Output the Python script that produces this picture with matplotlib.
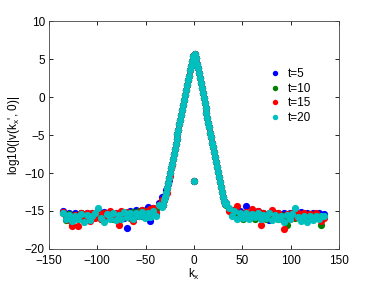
import matplotlib
matplotlib.use("Agg")
import matplotlib.pyplot as plt
import numpy as np

plt.rcParams['font.family'] = ['Liberation Sans', 'DejaVu Sans']
plt.rcParams['mathtext.default'] = 'regular'

# k_x grid: dense around the peak, coarser on the noise floor
k_peak = np.arange(-32, 33)
k_left = np.arange(-135, -32, 3)
k_right = np.arange(33, 136, 3)

# peak values (shared by all times)
v_peak = [-14.2, -13.6, -13.2, -12.6, -12.0, -11.3, -10.7, -10.0, -9.4, -8.8,
          -8.1, -7.5, -6.8, -6.2, -5.5, -4.9, -4.3, -3.6, -3.0, -2.3,
          -1.7, -1.0, -0.4, 0.3, 0.9, 1.6, 2.2, 2.8, 3.5, 4.1,
          4.8, 5.4, -11.0, 5.7, 5.1, 4.4, 3.8, 3.1, 2.5, 1.8,
          1.2, 0.5, -0.1, -0.8, -1.4, -2.1, -2.7, -3.4, -4.0, -4.7,
          -5.3, -6.0, -6.6, -7.3, -7.9, -8.6, -9.2, -9.9, -10.5, -11.2,
          -11.8, -12.5, -13.1, -13.7, -14.1]

# noise floor, left and right of the peak
blue_left = [-15.0, -15.6, -15.2, -16.0, -15.3, -15.8, -15.2, -16.0, -15.3, -15.9,
             -15.3, -15.6, -14.9, -15.8, -15.1, -15.6, -15.1, -15.8, -15.2, -15.7,
             -15.3, -15.9, -17.3, -15.0, -15.7, -14.9, -15.6, -14.9, -15.5, -14.5,
             -16.3, -14.6, -15.2, -14.0, -13.2]
blue_right = [-14.0, -14.8, -15.4, -14.9, -15.6, -15.0, -15.7, -14.3, -15.8, -15.1,
              -15.6, -15.0, -15.9, -15.2, -15.7, -16.2, -15.3, -15.8, -15.2, -15.9,
              -15.2, -15.7, -15.2, -15.6, -15.0, -15.6, -15.1, -15.7, -15.2, -15.8,
              -15.3, -15.7, -15.2, -15.6, -15.4]
green_left = [-15.3, -16.2, -15.4, -16.8, -15.5, -16.0, -15.3, -16.2, -15.4, -16.0,
              -15.3, -15.8, -15.2, -16.1, -15.3, -15.9, -15.1, -16.0, -15.4, -15.9,
              -15.2, -15.8, -15.3, -15.9, -15.1, -15.7, -15.0, -15.6, -15.0, -15.5,
              -14.9, -15.4, -14.8, -14.3, -13.8]
green_right = [-14.2, -14.9, -15.5, -15.2, -15.9, -15.3, -16.0, -15.4, -15.9, -15.2,
               -16.0, -15.4, -15.8, -15.3, -16.0, -15.5, -15.9, -15.3, -16.1, -15.5,
               -16.0, -16.9, -15.6, -15.2, -15.9, -15.4, -16.0, -15.5, -15.9, -15.4,
               -16.0, -15.5, -15.9, -16.9, -15.8]
red_left = [-15.1, -15.8, -16.2, -17.0, -15.5, -17.0, -15.2, -16.0, -15.3, -16.3,
            -15.2, -15.9, -15.1, -16.0, -15.2, -15.8, -15.0, -15.9, -15.2, -16.9,
            -15.0, -15.7, -15.1, -15.8, -16.3, -15.2, -15.6, -14.9, -15.6, -15.0,
            -14.7, -14.6, -15.3, -14.2, -13.5]
red_right = [-14.1, -15.0, -15.3, -14.9, -14.4, -15.2, -15.8, -15.1, -15.7, -14.7,
             -15.6, -15.0, -16.8, -15.3, -15.8, -15.2, -14.9, -15.7, -15.2, -15.9,
             -17.4, -15.4, -16.1, -15.3, -15.8, -15.2, -15.9, -15.3, -15.8, -15.4,
             -16.0, -15.3, -15.9, -16.3, -15.9]
cyan_left = [-15.2, -16.0, -15.5, -16.3, -15.6, -16.1, -15.4, -16.4, -15.5, -16.2,
             -15.6, -15.3, -14.6, -15.9, -16.5, -15.4, -16.0, -15.3, -16.2, -15.5,
             -16.0, -15.1, -15.8, -15.2, -16.0, -15.3, -15.7, -15.1, -15.9, -15.2,
             -15.8, -15.0, -15.6, -14.2, -14.5]
cyan_right = [-14.0, -14.6, -15.6, -15.0, -16.0, -15.3, -15.9, -15.2, -16.1, -15.4,
              -15.8, -15.3, -16.1, -15.5, -15.9, -15.3, -16.2, -15.5, -16.0, -15.6,
              -16.4, -15.5, -16.1, -15.4, -14.6, -15.8, -16.3, -15.6, -16.5, -15.7,
              -16.2, -15.6, -16.1, -15.7, -15.6]

# a few stray points near the foot of the peak
k_extra_blue = [-29, -27, -26]
v_extra_blue = [-12.3, -11.4, -10.9]
k_extra_red = [-28, -25, -23]
v_extra_red = [-12.6, -10.4, -9.0]

labels = ['t=5', 't=10', 't=15', 't=20']
colors = ['#0000ff', '#008000', '#ff0000', '#00bfbf']
lefts = [blue_left, green_left, red_left, cyan_left]
rights = [blue_right, green_right, red_right, cyan_right]
extras = [(k_extra_blue, v_extra_blue), ([], []), (k_extra_red, v_extra_red), ([], [])]

fig = plt.figure(figsize=(3.74, 2.81), dpi=100)
ax = fig.add_axes([0.131, 0.114, 0.775, 0.811])

for lab, c, vl, vr, ex in zip(labels, colors, lefts, rights, extras):
    k = np.concatenate([k_left, k_peak, k_right, ex[0]])
    v = np.concatenate([vl, v_peak, vr, ex[1]])
    ax.plot(k, v, 'o', color=c, ms=5.2, mew=0, label=lab)

ax.set_xlim(-150, 150)
ax.set_ylim(-20, 10)
ax.set_xticks([-150, -100, -50, 0, 50, 100, 150])
ax.set_yticks([-20, -15, -10, -5, 0, 5, 10])
ax.tick_params(direction='in', top=True, right=True, labelsize=8.5, length=3, width=0.6)
ax.tick_params(axis='x', pad=4)
ax.tick_params(axis='y', pad=3)
for s in ax.spines.values():
    s.set_linewidth(0.6)
    s.set_color('#444444')
ax.set_xlabel('k$_x$', fontsize=8.5, labelpad=0)
ax.set_ylabel("log10(|v(k$_x$', 0)|", fontsize=8.5, labelpad=2)

ax.legend(loc='upper left', bbox_to_anchor=(0.722, 0.84), frameon=False, fontsize=8.5,
          handlelength=1.0, handletextpad=0.6, labelspacing=0.22, markerscale=0.75)

fig.savefig('out.png', dpi=100)
